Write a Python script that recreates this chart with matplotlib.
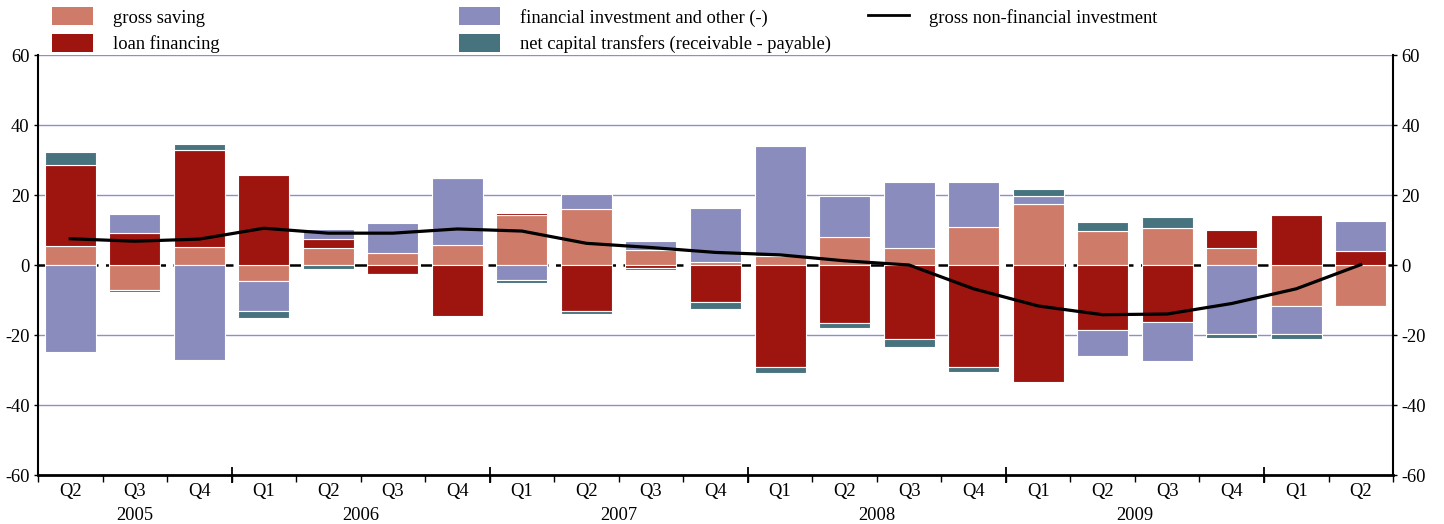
import numpy as np
import matplotlib.pyplot as plt
from matplotlib.patches import Patch
from matplotlib.lines import Line2D

plt.rcParams['font.family'] = ['Liberation Serif', 'DejaVu Serif']
plt.rcParams['font.size'] = 13.3
plt.rcParams['axes.unicode_minus'] = False

quarters = ['Q2', 'Q3', 'Q4',
            'Q1', 'Q2', 'Q3', 'Q4',
            'Q1', 'Q2', 'Q3', 'Q4',
            'Q1', 'Q2', 'Q3', 'Q4',
            'Q1', 'Q2', 'Q3', 'Q4',
            'Q1', 'Q2']
years = ['2005', '2006', '2007', '2008', '2009']
year_pos = [1, 4.5, 8.5, 12.5, 16.5]
year_breaks = [2.5, 6.5, 10.5, 14.5, 18.5]

gross_saving = [5.5, -7.1, 5.2, -4.6, 4.8, 3.3, 5.8,
                14.4, 15.9, 4.2, 1.0, 2.6, 8.0, 5.0, 10.9,
                17.5, 9.6, 10.6, 5.0, -11.7, -11.7]
loan_financing = [23.2, 9.2, 27.8, 25.6, 2.7, -2.6, -14.6,
                  0.5, -13.0, -0.9, -10.6, -29.0, -16.5, -21.2, -29.2,
                  -33.3, -18.5, -16.2, 4.9, 14.3, 3.9]
financial_inv = [-24.9, 5.5, -27.1, -8.6, 2.7, 8.8, 19.2,
                 -4.2, 4.4, 2.8, 15.2, 31.4, 11.6, 18.6, 12.8,
                 2.1, -7.4, -11.2, -19.6, -8.1, 8.6]
capital_transfers = [3.5, -0.6, 1.5, -1.8, -1.1, -0.2, 0.0,
                     -0.8, -0.9, -0.5, -2.0, -1.8, -1.5, -2.1, -1.3,
                     2.2, 2.6, 3.2, -1.3, -1.3, -0.4]
non_fin_investment = [7.5, 6.8, 7.4, 10.5, 9.1, 9.1, 10.3,
                      9.7, 6.2, 5.0, 3.6, 2.9, 1.2, 0.0, -6.8,
                      -11.7, -14.2, -14.0, -11.0, -6.8, 0.1]

series = [
    ('gross saving', gross_saving, '#cf7b69'),
    ('loan financing', loan_financing, '#9e1510'),
    ('financial investment and other (-)', financial_inv, '#8a8cbd'),
    ('net capital transfers (receivable - payable)', capital_transfers, '#46737e'),
]

fig = plt.figure(figsize=(14.44, 5.24), dpi=100)
ax = fig.add_axes([0.0263, 0.0935, 0.9384, 0.8015])

x = np.arange(len(quarters))
pos_base = np.zeros(len(x))
neg_base = np.zeros(len(x))
for name, vals, col in series:
    v = np.array(vals)
    base = np.where(v >= 0, pos_base, neg_base)
    ax.bar(x, v, 0.79, bottom=base, color=col, edgecolor='white',
           linewidth=0.8, zorder=3)
    pos_base += np.where(v >= 0, v, 0)
    neg_base += np.where(v < 0, v, 0)

ax.plot(x, non_fin_investment, color='black', linewidth=2.3, zorder=5)
ax.axhline(0, color='black', linewidth=1.8, linestyle=(0, (6, 3)), zorder=2)

ax.set_xlim(-0.5, len(x) - 0.5)
ax.set_ylim(-60, 60)
ax.set_yticks(np.arange(-60, 61, 20))
for g in [-40, -20, 20, 40, 60]:
    ax.axhline(g, color='#8b8fcb', linewidth=1.0, zorder=1)

ax.tick_params(axis='y', which='both', left=True, right=True,
               labelleft=True, labelright=True, length=3, width=1,
               direction='out', pad=3)
ax.set_xticks(x)
ax.set_xticklabels(quarters)
ax.tick_params(axis='x', which='major', length=0, pad=6)
ax.set_xticks(np.arange(-0.5, len(x), 1.0), minor=True)
ax.tick_params(axis='x', which='minor', length=5, width=1, direction='out')

sec = ax.secondary_xaxis('bottom')
sec.set_xticks(year_breaks)
sec.set_xticklabels([''] * len(year_breaks))
sec.tick_params(length=11, width=1.3, direction='inout')
sec.spines['bottom'].set_visible(False)

yr = ax.secondary_xaxis('bottom')
yr.set_xticks(year_pos)
yr.set_xticklabels(years)
yr.tick_params(length=0, pad=23)
yr.spines['bottom'].set_visible(False)

ax.spines['top'].set_visible(False)
ax.spines['left'].set_linewidth(1.5)
ax.spines['right'].set_linewidth(1.5)
ax.spines['bottom'].set_linewidth(2)

handles = [Patch(facecolor=c, edgecolor='none') for _, _, c in series]
labels = [n for n, _, _ in series]
line_handle = Line2D([], [], color='black', linewidth=2)

leg_kw = dict(frameon=False, handlelength=2.2, handleheight=1.1,
              handletextpad=1.1, labelspacing=0.4, fontsize=13.3,
              loc='upper left', borderaxespad=0)
leg1 = fig.legend(handles[:2], labels[:2], bbox_to_anchor=(0.031, 1.0), **leg_kw)
leg2 = fig.legend(handles[2:], labels[2:], bbox_to_anchor=(0.313, 1.0), **leg_kw)
leg3 = fig.legend([line_handle], ['gross non-financial investment'],
                  bbox_to_anchor=(0.596, 1.0), **leg_kw)

fig.savefig('out.png', dpi=100)
